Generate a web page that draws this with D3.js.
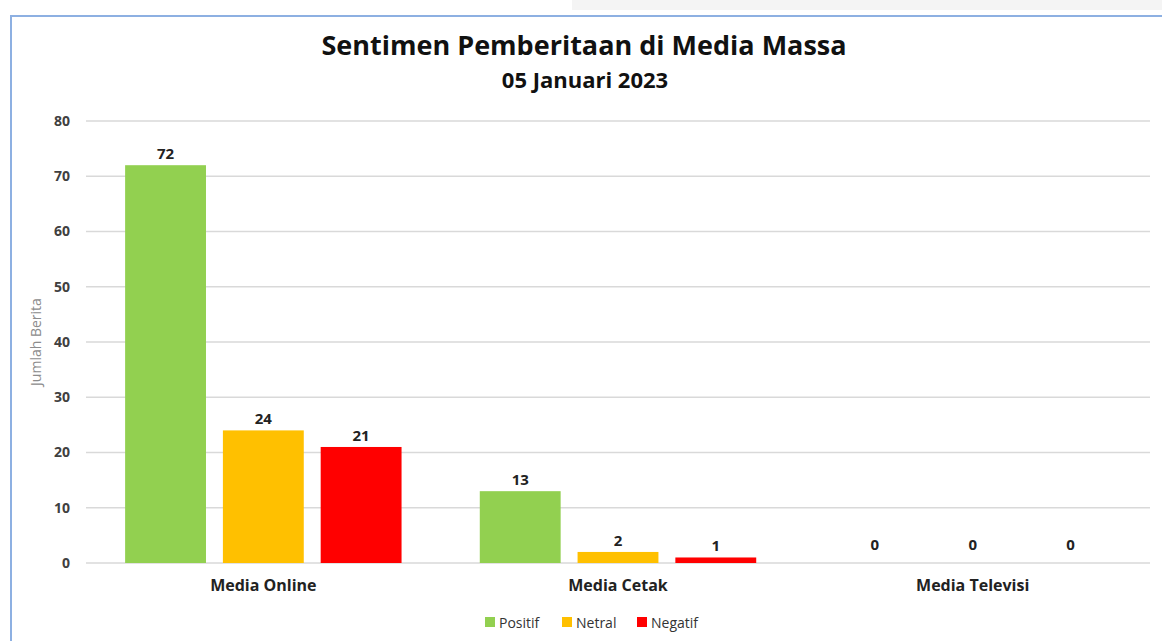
<!DOCTYPE html>
<html>
<head>
<meta charset="utf-8">
<script src="https://cdn.jsdelivr.net/npm/d3@7"></script>
<style>
    body { margin: 0; background: #fff; }
    svg { display: block; font-family: "Open Sans", "Noto Sans", sans-serif; }
</style>
</head>
<body>
<svg id="chart"></svg>
<script>
// data
const categories = ['Media Online', 'Media Cetak', 'Media Televisi'];
const seriesNames = ['Positif', 'Netral', 'Negatif'];
const seriesColors = ['#92d050', '#ffc000', '#ff0000'];
const positif = [72, 13, 0];
const netral = [24, 2, 0];
const negatif = [21, 1, 0];
const yTicks = [0, 10, 20, 30, 40, 50, 60, 70, 80];

const seriesValues = [positif, netral, negatif];

const width = 1162;
const height = 641;
const margin = { top: 121, right: 12, bottom: 78, left: 86 };

const svg = d3.select('#chart')
    .attr('width', width)
    .attr('height', height);

// frame + grey strip at the top
svg.append('rect')
    .attr('x', 572).attr('y', 0)
    .attr('width', 600).attr('height', 10)
    .attr('fill', '#f4f4f4');

svg.append('rect')
    .attr('x', 11).attr('y', 16)
    .attr('width', 1200).attr('height', 700)
    .attr('fill', 'none')
    .attr('stroke', '#8db0e2')
    .attr('stroke-width', 2);

// titles
svg.append('text')
    .attr('x', 584).attr('y', 55)
    .attr('text-anchor', 'middle')
    .attr('font-size', 27)
    .attr('font-weight', 'bold')
    .attr('fill', '#111')
    .text('Sentimen Pemberitaan di Media Massa');

svg.append('text')
    .attr('x', 585).attr('y', 88)
    .attr('text-anchor', 'middle')
    .attr('font-size', 22)
    .attr('font-weight', 'bold')
    .attr('fill', '#111')
    .text('05 Januari 2023');

// scales
const x = d3.scaleBand()
    .domain(categories)
    .range([margin.left, width - margin.right]);

const xInner = d3.scaleBand()
    .domain(seriesNames)
    .range([0, x.bandwidth()])
    .paddingInner(0.173)
    .paddingOuter(0.4);

const y = d3.scaleLinear()
    .domain([0, 80])
    .range([height - margin.bottom, margin.top]);

// grid
svg.append('g')
    .selectAll('line')
    .data(yTicks)
    .enter()
    .append('line')
    .attr('x1', margin.left)
    .attr('x2', width - margin.right)
    .attr('y1', d => y(d))
    .attr('y2', d => y(d))
    .attr('stroke', '#d9d9d9')
    .attr('stroke-width', 1.5);

// y axis
const yAxis = svg.append('g')
    .attr('transform', `translate(${margin.left},0)`)
    .call(d3.axisLeft(y).tickValues(yTicks).tickSize(0).tickPadding(16));
yAxis.select('.domain').remove();
yAxis.selectAll('text')
    .attr('font-family', '"Open Sans", sans-serif')
    .attr('font-size', 14)
    .attr('font-weight', 'bold')
    .attr('fill', '#404040');

svg.append('text')
    .attr('transform', `translate(41,${y(40)}) rotate(-90)`)
    .attr('text-anchor', 'middle')
    .attr('font-size', 14)
    .attr('fill', '#8c8c8c')
    .text('Jumlah Berita');

// x axis labels
const xAxis = svg.append('g')
    .attr('transform', `translate(0,${height - margin.bottom})`)
    .call(d3.axisBottom(x).tickSize(0).tickPadding(17));
xAxis.select('.domain').remove();
xAxis.selectAll('text')
    .attr('font-family', '"Open Sans", sans-serif')
    .attr('font-size', 16)
    .attr('font-weight', 'bold')
    .attr('fill', '#222');

// bars
const rows = [];
categories.forEach((c, i) => {
    seriesNames.forEach((s, j) => {
        rows.push({ category: c, series: s, value: seriesValues[j][i], color: seriesColors[j] });
    });
});

svg.append('g')
    .selectAll('rect')
    .data(rows)
    .enter()
    .append('rect')
    .attr('x', d => x(d.category) + xInner(d.series))
    .attr('y', d => y(d.value))
    .attr('width', xInner.bandwidth())
    .attr('height', d => y(0) - y(d.value))
    .attr('fill', d => d.color);

svg.append('g')
    .selectAll('text')
    .data(rows)
    .enter()
    .append('text')
    .attr('x', d => x(d.category) + xInner(d.series) + xInner.bandwidth() / 2)
    .attr('y', d => y(d.value) - (d.value === 0 ? 13 : 6))
    .attr('text-anchor', 'middle')
    .attr('font-size', 15)
    .attr('font-weight', 'bold')
    .attr('fill', '#222')
    .text(d => d.value);

// legend
const legendX = [485, 562, 637];
const legend = svg.append('g');
legend.selectAll('rect')
    .data(seriesNames)
    .enter()
    .append('rect')
    .attr('x', (d, i) => legendX[i])
    .attr('y', 617)
    .attr('width', 10)
    .attr('height', 10)
    .attr('fill', (d, i) => seriesColors[i]);

legend.selectAll('text')
    .data(seriesNames)
    .enter()
    .append('text')
    .attr('x', (d, i) => legendX[i] + 14)
    .attr('y', 628)
    .attr('font-size', 14)
    .attr('fill', '#333')
    .text(d => d);
</script>
</body>
</html>
